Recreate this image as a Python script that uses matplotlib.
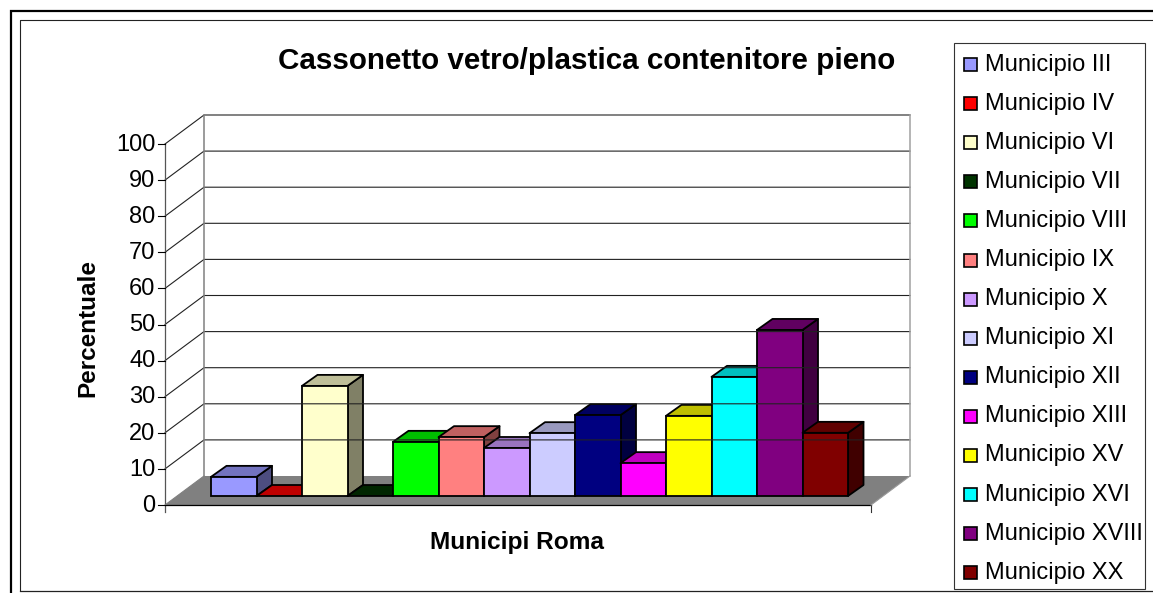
import matplotlib
matplotlib.use("Agg")
import matplotlib.pyplot as plt
from matplotlib.patches import Polygon, Rectangle

plt.rcParams['font.family'] = ['Liberation Sans', 'DejaVu Sans']

municipi = ["Municipio III", "Municipio IV", "Municipio VI", "Municipio VII", "Municipio VIII",
            "Municipio IX", "Municipio X", "Municipio XI", "Municipio XII", "Municipio XIII",
            "Municipio XV", "Municipio XVI", "Municipio XVIII", "Municipio XX"]
valori = [5.3, 0, 30.5, 0, 15, 16.3, 13.3, 17.4, 22.4, 9.1, 22.2, 33, 46, 17.5]
colori = ["#9999FF", "#FF0000", "#FFFFCC", "#003300", "#00FF00", "#FF8080", "#CC99FF",
          "#CCCCFF", "#000080", "#FF00FF", "#FFFF00", "#00FFFF", "#800080", "#800000"]
tacche = [0, 10, 20, 30, 40, 50, 60, 70, 80, 90, 100]


def scura(col, k):
    r, g, b = matplotlib.colors.to_rgb(col)
    return (r * k, g * k, b * k)


fig = plt.figure(figsize=(11.53, 5.93), dpi=100)
# axes in image pixels, y going down
ax = fig.add_axes([0, 0, 1, 1])
ax.set_xlim(0, 1153)
ax.set_ylim(593, 0)
ax.axis("off")

# outer frames
ax.plot([10.5, 10.5, 1153], [593, 10.5, 10.5], color="k", lw=1.6, solid_joinstyle="miter")
ax.plot([19.5, 19.5, 1153], [590, 19.5, 19.5], color="#222222", lw=0.8)
ax.plot([19.5, 1153], [590.5, 590.5], color="#222222", lw=0.9)

# floor and walls
px_unit = 3.61
x_f0, x_f1, y_f = 165, 871, 505
x_b0, x_b1, y_b = 204, 910, 476
ax.add_patch(Polygon([(x_f0, y_f), (x_f1, y_f), (x_b1, y_b), (x_b0, y_b)],
                     facecolor="#808080", edgecolor="none"))
for t in tacche[1:]:
    y0 = y_f - t * px_unit
    y1 = y_b - t * px_unit
    ax.plot([x_f0, x_b0, x_b1], [y0, y1, y1], color="#222222", lw=0.8, snap=False)
ax.plot([x_b0, x_b0], [y_b, y_b - 100 * px_unit], color="#808080", lw=1.1)
ax.plot([x_b1, x_b1], [y_b, y_b - 100 * px_unit], color="#a0a0a0", lw=1.1)
ax.plot([x_f0, x_f0], [y_f + 7, y_f - 100 * px_unit], color="#555555", lw=0.9)
ax.plot([x_f0, x_f1], [y_f, y_f], color="k", lw=0.9)
ax.plot([x_f1, x_f1], [y_f, y_f + 7], color="#333333", lw=0.8)
ax.plot([x_f0, x_b0], [y_f, y_b], color="#808080", lw=0.8)
ax.plot([x_f1, x_b1], [y_f, y_b], color="#999999", lw=0.8)

for t in tacche:
    y0 = y_f - t * px_unit
    ax.plot([x_f0 - 7, x_f0], [y0, y0], color="k", lw=0.8)
    ax.text(155.5, y0 + 0.7, str(t), ha="right", va="center", fontsize=17, color="k")

# bars
x0 = 211
passo = 45.5
dx, dy = 15.5, -11
y_base = 496
for i, (v, c) in enumerate(zip(valori, colori)):
    xa = x0 + i * passo
    xb = xa + passo
    ya = y_base - v * px_unit
    ax.add_patch(Polygon([(xb, y_base), (xb + dx, y_base + dy), (xb + dx, ya + dy), (xb, ya)],
                         facecolor=scura(c, 0.5), edgecolor="k", lw=1.3, joinstyle="round"))
    ax.add_patch(Polygon([(xa, ya), (xb, ya), (xb + dx, ya + dy), (xa + dx, ya + dy)],
                         facecolor=scura(c, 0.75), edgecolor="k", lw=1.3, joinstyle="round"))
    if v > 0:
        ax.add_patch(Rectangle((xa, ya), passo, v * px_unit, facecolor=c, edgecolor="k", lw=1.3))

# texts
ax.text(587, 61, "Cassonetto vetro/plastica contenitore pieno", ha="center", va="center",
        fontsize=21.3, fontweight="bold")
ax.text(517, 543, "Municipi Roma", ha="center", va="center", fontsize=17.6, fontweight="bold")
ax.text(87.5, 328, "Percentuale", ha="center", va="center", rotation=90, fontsize=17.5, fontweight="bold")

# legend
ax.add_patch(Rectangle((954, 43), 191, 546, facecolor="white", edgecolor="#333333", lw=0.8, zorder=3))
for i, (nome, c) in enumerate(zip(municipi, colori)):
    yl = 63.5 + i * 39.1
    ax.add_patch(Rectangle((963.5, yl - 5.5), 13, 13, facecolor=c, edgecolor="k", lw=1.2, zorder=4))
    ax.text(985, yl + 1, nome, ha="left", va="center", fontsize=17, zorder=4)

fig.savefig("out.png", dpi=100)
